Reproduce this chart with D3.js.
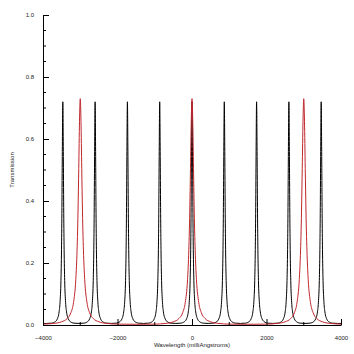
<!DOCTYPE html>
<html lang="en">
<head>
<meta charset="UTF-8">
<title>Transmission</title>
<script src="https://cdn.jsdelivr.net/npm/d3@7"></script>
<style>
  body { margin: 0; background: #fff; }
  .axis text { font-family: "Liberation Sans", Arial, sans-serif; font-size: 6px; fill: #222; }
  .axis path, .axis line { stroke: #000; }
  .label { font-family: "Liberation Sans", Arial, sans-serif; font-size: 6px; fill: #222; }
</style>
</head>
<body>
<script>
// peak centres (milliAngstroms)
const blackCenters = [-3468, -2601, -1734, -867, 0, 867, 1734, 2601, 3468];
const redCenters = [-3000, 0, 3000];

// shape of one peak: offset from centre vs transmission
const blackOffsets = [-433, -300, -200, -150, -100, -75, -50, -35, -25, -15, 0, 15, 25, 35, 50, 75, 100, 150, 200, 300, 433];
const blackValues  = [0.005, 0.006, 0.011, 0.019, 0.042, 0.072, 0.144, 0.243, 0.36, 0.529, 0.72, 0.529, 0.36, 0.243, 0.144, 0.072, 0.042, 0.019, 0.011, 0.006, 0.005];
const redOffsets = [-1500, -1000, -700, -500, -350, -250, -180, -120, -90, -60, -40, -20, 0, 20, 40, 60, 90, 120, 180, 250, 350, 500, 700, 1000, 1500];
const redValues  = [0.0023, 0.0028, 0.0053, 0.0104, 0.021, 0.04, 0.073, 0.146, 0.225, 0.365, 0.505, 0.657, 0.73, 0.657, 0.505, 0.365, 0.225, 0.146, 0.073, 0.04, 0.021, 0.0104, 0.0053, 0.0028, 0.0023];

const xTicks = [-4000, -2000, 0, 2000, 4000];
const xMinor = [-3000, -1000, 1000, 3000];
const yTicks = [0, 0.2, 0.4, 0.6, 0.8, 1.0];
const yMinor = [0.05, 0.1, 0.15, 0.25, 0.3, 0.35, 0.45, 0.5, 0.55, 0.65, 0.7, 0.75, 0.85, 0.9, 0.95];

const w = 354, h = 354;
const margin = {left: 43, right: 13, top: 15, bottom: 29};

const svg = d3.select("body").append("svg")
  .attr("width", w).attr("height", h);

const x = d3.scaleLinear().domain([-4000, 4000]).range([margin.left, w - margin.right]);
const y = d3.scaleLinear().domain([0, 1]).range([h - margin.bottom, margin.top]);

function buildSeries(centers, offsets, values) {
  let pts = [];
  centers.forEach(c => {
    offsets.forEach((o, i) => pts.push([c + o, values[i]]));
  });
  pts.sort((a, b) => a[0] - b[0]);
  // clip to the plotted range, keep the wing value at the edges
  const first = pts.filter(p => p[0] <= -4000).pop() || pts[0];
  const last = pts.filter(p => p[0] >= 4000)[0] || pts[pts.length - 1];
  pts = pts.filter(p => p[0] > -4000 && p[0] < 4000);
  pts.unshift([-4000, first[1]]);
  pts.push([4000, last[1]]);
  return pts;
}

const line = d3.line()
  .x(d => x(d[0]))
  .y(d => y(d[1]))
  .curve(d3.curveMonotoneX);

svg.append("path")
  .datum(buildSeries(blackCenters, blackOffsets, blackValues))
  .attr("fill", "none")
  .attr("stroke", "#000")
  .attr("stroke-width", 1)
  .attr("d", line);

svg.append("path")
  .datum(buildSeries(redCenters, redOffsets, redValues))
  .attr("fill", "none")
  .attr("stroke", "#c0272d")
  .attr("stroke-width", 1)
  .attr("d", line);

// axes, ticks pointing inward
const xAxis = svg.append("g")
  .attr("class", "axis")
  .attr("transform", "translate(0," + (h - margin.bottom) + ")")
  .call(d3.axisBottom(x).tickValues(xTicks).tickSizeInner(-6).tickSizeOuter(0).tickPadding(11)
    .tickFormat(d3.format("d")));
xAxis.selectAll(".tick-minor")
  .data(xMinor).enter().append("line")
  .attr("x1", d => x(d)).attr("x2", d => x(d))
  .attr("y1", 0).attr("y2", -3)
  .attr("stroke", "#000");

const yAxis = svg.append("g")
  .attr("class", "axis")
  .attr("transform", "translate(" + margin.left + ",0)")
  .call(d3.axisLeft(y).tickValues(yTicks).tickSizeInner(-6).tickSizeOuter(0).tickPadding(9)
    .tickFormat(d3.format(".1f")));
yAxis.selectAll(".tick-minor")
  .data(yMinor).enter().append("line")
  .attr("x1", 0).attr("x2", 3)
  .attr("y1", d => y(d)).attr("y2", d => y(d))
  .attr("stroke", "#000");

svg.append("text")
  .attr("class", "label")
  .attr("x", (margin.left + w - margin.right) / 2)
  .attr("y", 347)
  .attr("text-anchor", "middle")
  .text("Wavelength (milliAngstroms)");

svg.append("text")
  .attr("class", "label")
  .attr("transform", "translate(14," + ((margin.top + h - margin.bottom) / 2) + ") rotate(-90)")
  .attr("text-anchor", "middle")
  .text("Transmission");
</script>
</body>
</html>
